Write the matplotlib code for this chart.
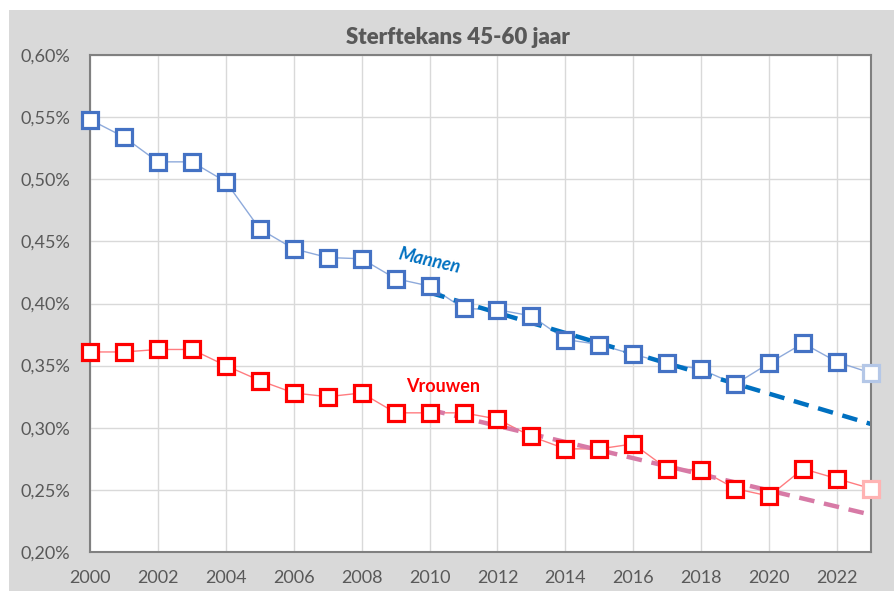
import matplotlib
matplotlib.use("Agg")
import matplotlib.pyplot as plt
from matplotlib.patches import Rectangle
from matplotlib.ticker import FuncFormatter, MultipleLocator

plt.rcParams['font.family'] = ['Lato', 'DejaVu Sans']

years = list(range(2000, 2024))
mannen = [0.548, 0.534, 0.514, 0.514, 0.498, 0.460, 0.444, 0.437, 0.436, 0.420,
          0.414, 0.396, 0.395, 0.390, 0.371, 0.367, 0.359, 0.352, 0.347, 0.335,
          0.352, 0.368, 0.353, 0.344]
vrouwen = [0.361, 0.361, 0.363, 0.363, 0.350, 0.338, 0.328, 0.325, 0.328, 0.312,
           0.312, 0.312, 0.307, 0.293, 0.283, 0.283, 0.287, 0.267, 0.266, 0.251,
           0.245, 0.267, 0.259, 0.251]
trend_years = [2010, 2023]
trend_mannen = [0.4088, 0.303]
trend_vrouwen = [0.3145, 0.230]

title = "Sterftekans 45-60 jaar"

fig = plt.figure(figsize=(8.95, 5.91), dpi=100, facecolor='white')
fig.patches.append(Rectangle((9/895, 0), 1, 581/591, transform=fig.transFigure,
                             facecolor='#d9d9d9', edgecolor='none', zorder=-10))
ax = fig.add_axes([90/895, 39/591, 781/895, 497/591])
ax.set_facecolor('white')

blue_edge = '#4472c4'
blue_line = '#8eaadb'
red_edge = '#ff0000'
red_line = '#ff7c80'

# connecting lines
ax.plot(years, mannen, color=blue_line, lw=1.0, zorder=2)
ax.plot(years, vrouwen, color=red_line, lw=1.0, zorder=2)
# trend lines
ax.plot(trend_years, trend_mannen, color='#0070c0', lw=3.2, ls=(0, (3.5, 2.2)), zorder=3,
        dash_capstyle='butt')
ax.plot(trend_years, trend_vrouwen, color='#d77aa6', lw=3.2, ls=(0, (3.5, 2.2)), zorder=3,
        dash_capstyle='butt')
# markers
mk = dict(ls='none', marker='s', ms=11, mew=2.3, mfc='white', zorder=5, clip_on=False)
ax.plot(years[:-1], mannen[:-1], mec=blue_edge, **mk)
ax.plot(years[-1:], mannen[-1:], mec='#b4c7e7', **mk)
ax.plot(years[:-1], vrouwen[:-1], mec=red_edge, **mk)
ax.plot(years[-1:], vrouwen[-1:], mec='#ffb3b3', **mk)

ax.set_xlim(2000, 2023)
ax.set_ylim(0.20, 0.60)
ax.xaxis.set_major_locator(MultipleLocator(2))
ax.yaxis.set_major_locator(MultipleLocator(0.05))
ax.yaxis.set_major_formatter(FuncFormatter(lambda v, p: f"{v:.2f}%".replace('.', ',')))
ax.grid(True, color='#d9d9d9', lw=1.0, zorder=0)
ax.set_axisbelow(True)
for s in ax.spines.values():
    s.set_color('#808080')
    s.set_linewidth(1.5)
    s.set_zorder(4)
ax.tick_params(length=0, labelsize=13, labelcolor='#595959')
ax.tick_params(axis='x', pad=13)
ax.tick_params(axis='y', pad=14)

ax.text(2010.0, 0.4345, "Mannen", color='#0070c0', fontsize=13, fontweight='bold',
        fontstyle='italic', rotation=-13, ha='center', va='center', zorder=6)
ax.text(2010.4, 0.3335, "Vrouwen", color='#ff0000', fontsize=13, fontweight='bold',
        ha='center', va='center', zorder=6)

fig.text(458/895, 1 - 38/591, title, ha='center', va='center', fontsize=16,
         fontweight='heavy', color='#595959')

fig.savefig('out.png', dpi=100, facecolor=fig.get_facecolor())
